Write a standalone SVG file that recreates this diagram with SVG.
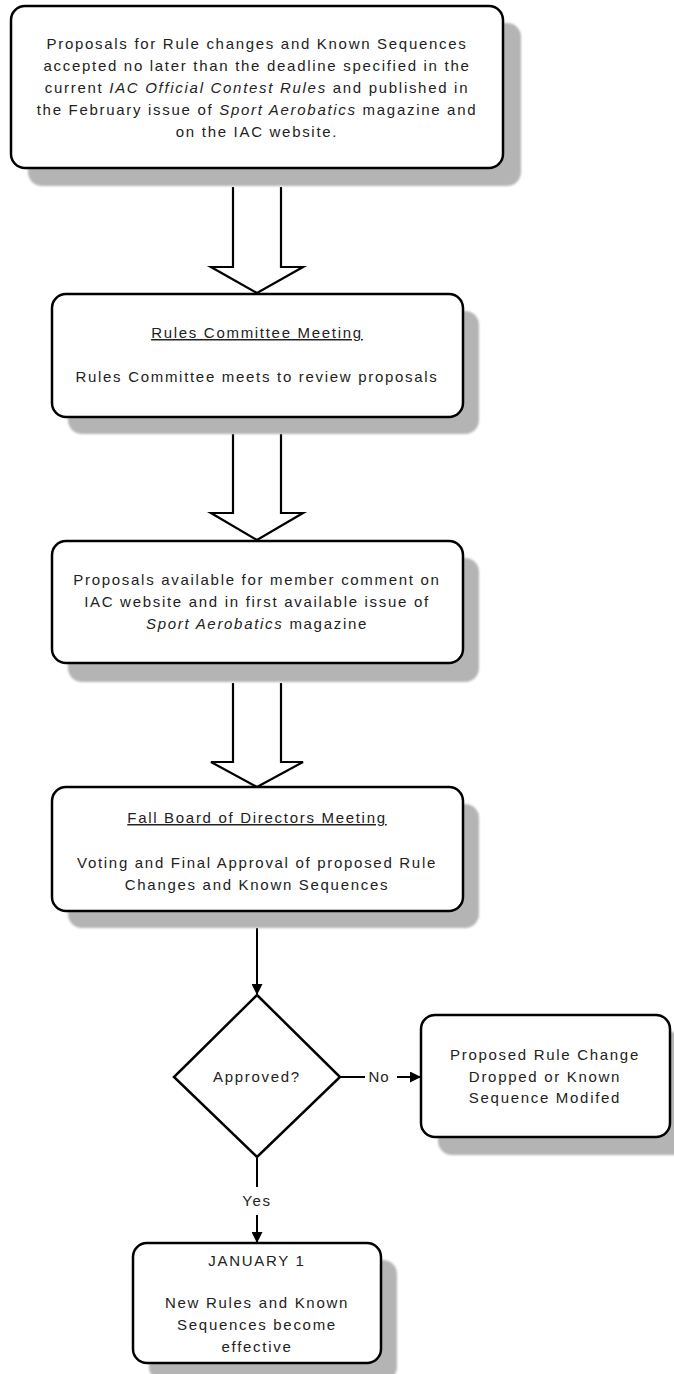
<svg xmlns="http://www.w3.org/2000/svg" width="674" height="1374" viewBox="0 0 674 1374">
<defs>
<filter id="blur" x="-5%" y="-5%" width="110%" height="110%"><feGaussianBlur stdDeviation="1"/></filter>
<marker id="ah" viewBox="0 0 10 10" refX="10" refY="5" markerWidth="11" markerHeight="11" markerUnits="userSpaceOnUse" orient="auto"><path d="M0,0 L10,5 L0,10 Z" fill="#000"/></marker>
</defs>
<style>
.box{fill:#fff;stroke:#000;stroke-width:2.5}
.shadow{fill:#b4b4b4;filter:url(#blur)}
.blk{fill:#fff;stroke:#000;stroke-width:2.2;stroke-linejoin:miter}
.ln{fill:none;stroke:#000;stroke-width:2}
text{font-family:"Liberation Sans",Arial,sans-serif;font-size:15px;fill:#222;text-anchor:middle;letter-spacing:1.7px}
.it{font-style:italic}
.ul{text-decoration:underline}
</style>
<rect width="674" height="1374" fill="#fff"/>

<g id="connectors">
<path class="blk" d="M233,187 L233,267 L211,267 L257,293 L303,267 L281,267 L281,187"/>
<path class="blk" d="M233,434 L233,513 L211,513 L257,540 L303,513 L281,513 L281,434"/>
<path class="blk" d="M233,683 L233,762 L211,762 L257,787 L303,762 L281,762 L281,683"/>
<line class="ln" x1="257" y1="928" x2="257" y2="995" marker-end="url(#ah)"/>
<line class="ln" x1="340" y1="1077" x2="365" y2="1077"/>
<line class="ln" x1="397" y1="1077" x2="421" y2="1077" marker-end="url(#ah)"/>
<text x="379" y="1082" style="letter-spacing:1px">No</text>
<line class="ln" x1="257" y1="1157" x2="257" y2="1187"/>
<line class="ln" x1="257" y1="1215" x2="257" y2="1243" marker-end="url(#ah)"/>
<text x="257" y="1206">Yes</text>
</g>

<g id="n1">
<rect class="shadow" x="28" y="23" width="493" height="163" rx="14"/>
<rect class="box" x="11" y="6" width="492" height="162" rx="14"/>
<text x="257" y="49">Proposals for Rule changes and Known Sequences</text>
<text x="257" y="71">accepted no later than the deadline specified in the</text>
<text x="257" y="93">current <tspan class="it">IAC Official Contest Rules</tspan> and published in</text>
<text x="257" y="115">the February issue of <tspan class="it">Sport Aerobatics</tspan> magazine and</text>
<text x="257" y="137">on the IAC website.</text>
</g>

<g id="n2">
<rect class="shadow" x="68" y="311" width="411" height="123" rx="14"/>
<rect class="box" x="52" y="294" width="411" height="123" rx="14"/>
<text x="257" y="338" class="ul">Rules Committee Meeting</text>
<text x="257" y="382">Rules Committee meets to review proposals</text>
</g>

<g id="n3">
<rect class="shadow" x="68" y="558" width="411" height="124" rx="14"/>
<rect class="box" x="52" y="541" width="411" height="122" rx="14"/>
<text x="257" y="585">Proposals available for member comment on</text>
<text x="257" y="607">IAC website and in first available issue of</text>
<text x="257" y="629"><tspan class="it">Sport Aerobatics</tspan> magazine</text>
</g>

<g id="n4">
<rect class="shadow" x="68" y="804" width="411" height="124" rx="14"/>
<rect class="box" x="52" y="787" width="411" height="124" rx="14"/>
<text x="257" y="823" class="ul">Fall Board of Directors Meeting</text>
<text x="257" y="868">Voting and Final Approval of proposed Rule</text>
<text x="257" y="890">Changes and Known Sequences</text>
</g>

<g id="n5">
<path class="box" d="M257,995 L340,1077 L257,1157 L174,1077 Z"/>
<text x="257" y="1082">Approved?</text>
</g>

<g id="n6">
<rect class="shadow" x="438" y="1032" width="249" height="123" rx="14"/>
<rect class="box" x="421" y="1015" width="249" height="122" rx="14"/>
<text x="545" y="1060">Proposed Rule Change</text>
<text x="545" y="1082">Dropped or Known</text>
<text x="545" y="1103">Sequence Modifed</text>
</g>

<g id="n7">
<rect class="shadow" x="149" y="1260" width="248" height="121" rx="14"/>
<rect class="box" x="133" y="1243" width="248" height="120" rx="14"/>
<text x="257" y="1266">JANUARY 1</text>
<text x="257" y="1308">New Rules and Known</text>
<text x="257" y="1330">Sequences become</text>
<text x="257" y="1352">effective</text>
</g>
</svg>
